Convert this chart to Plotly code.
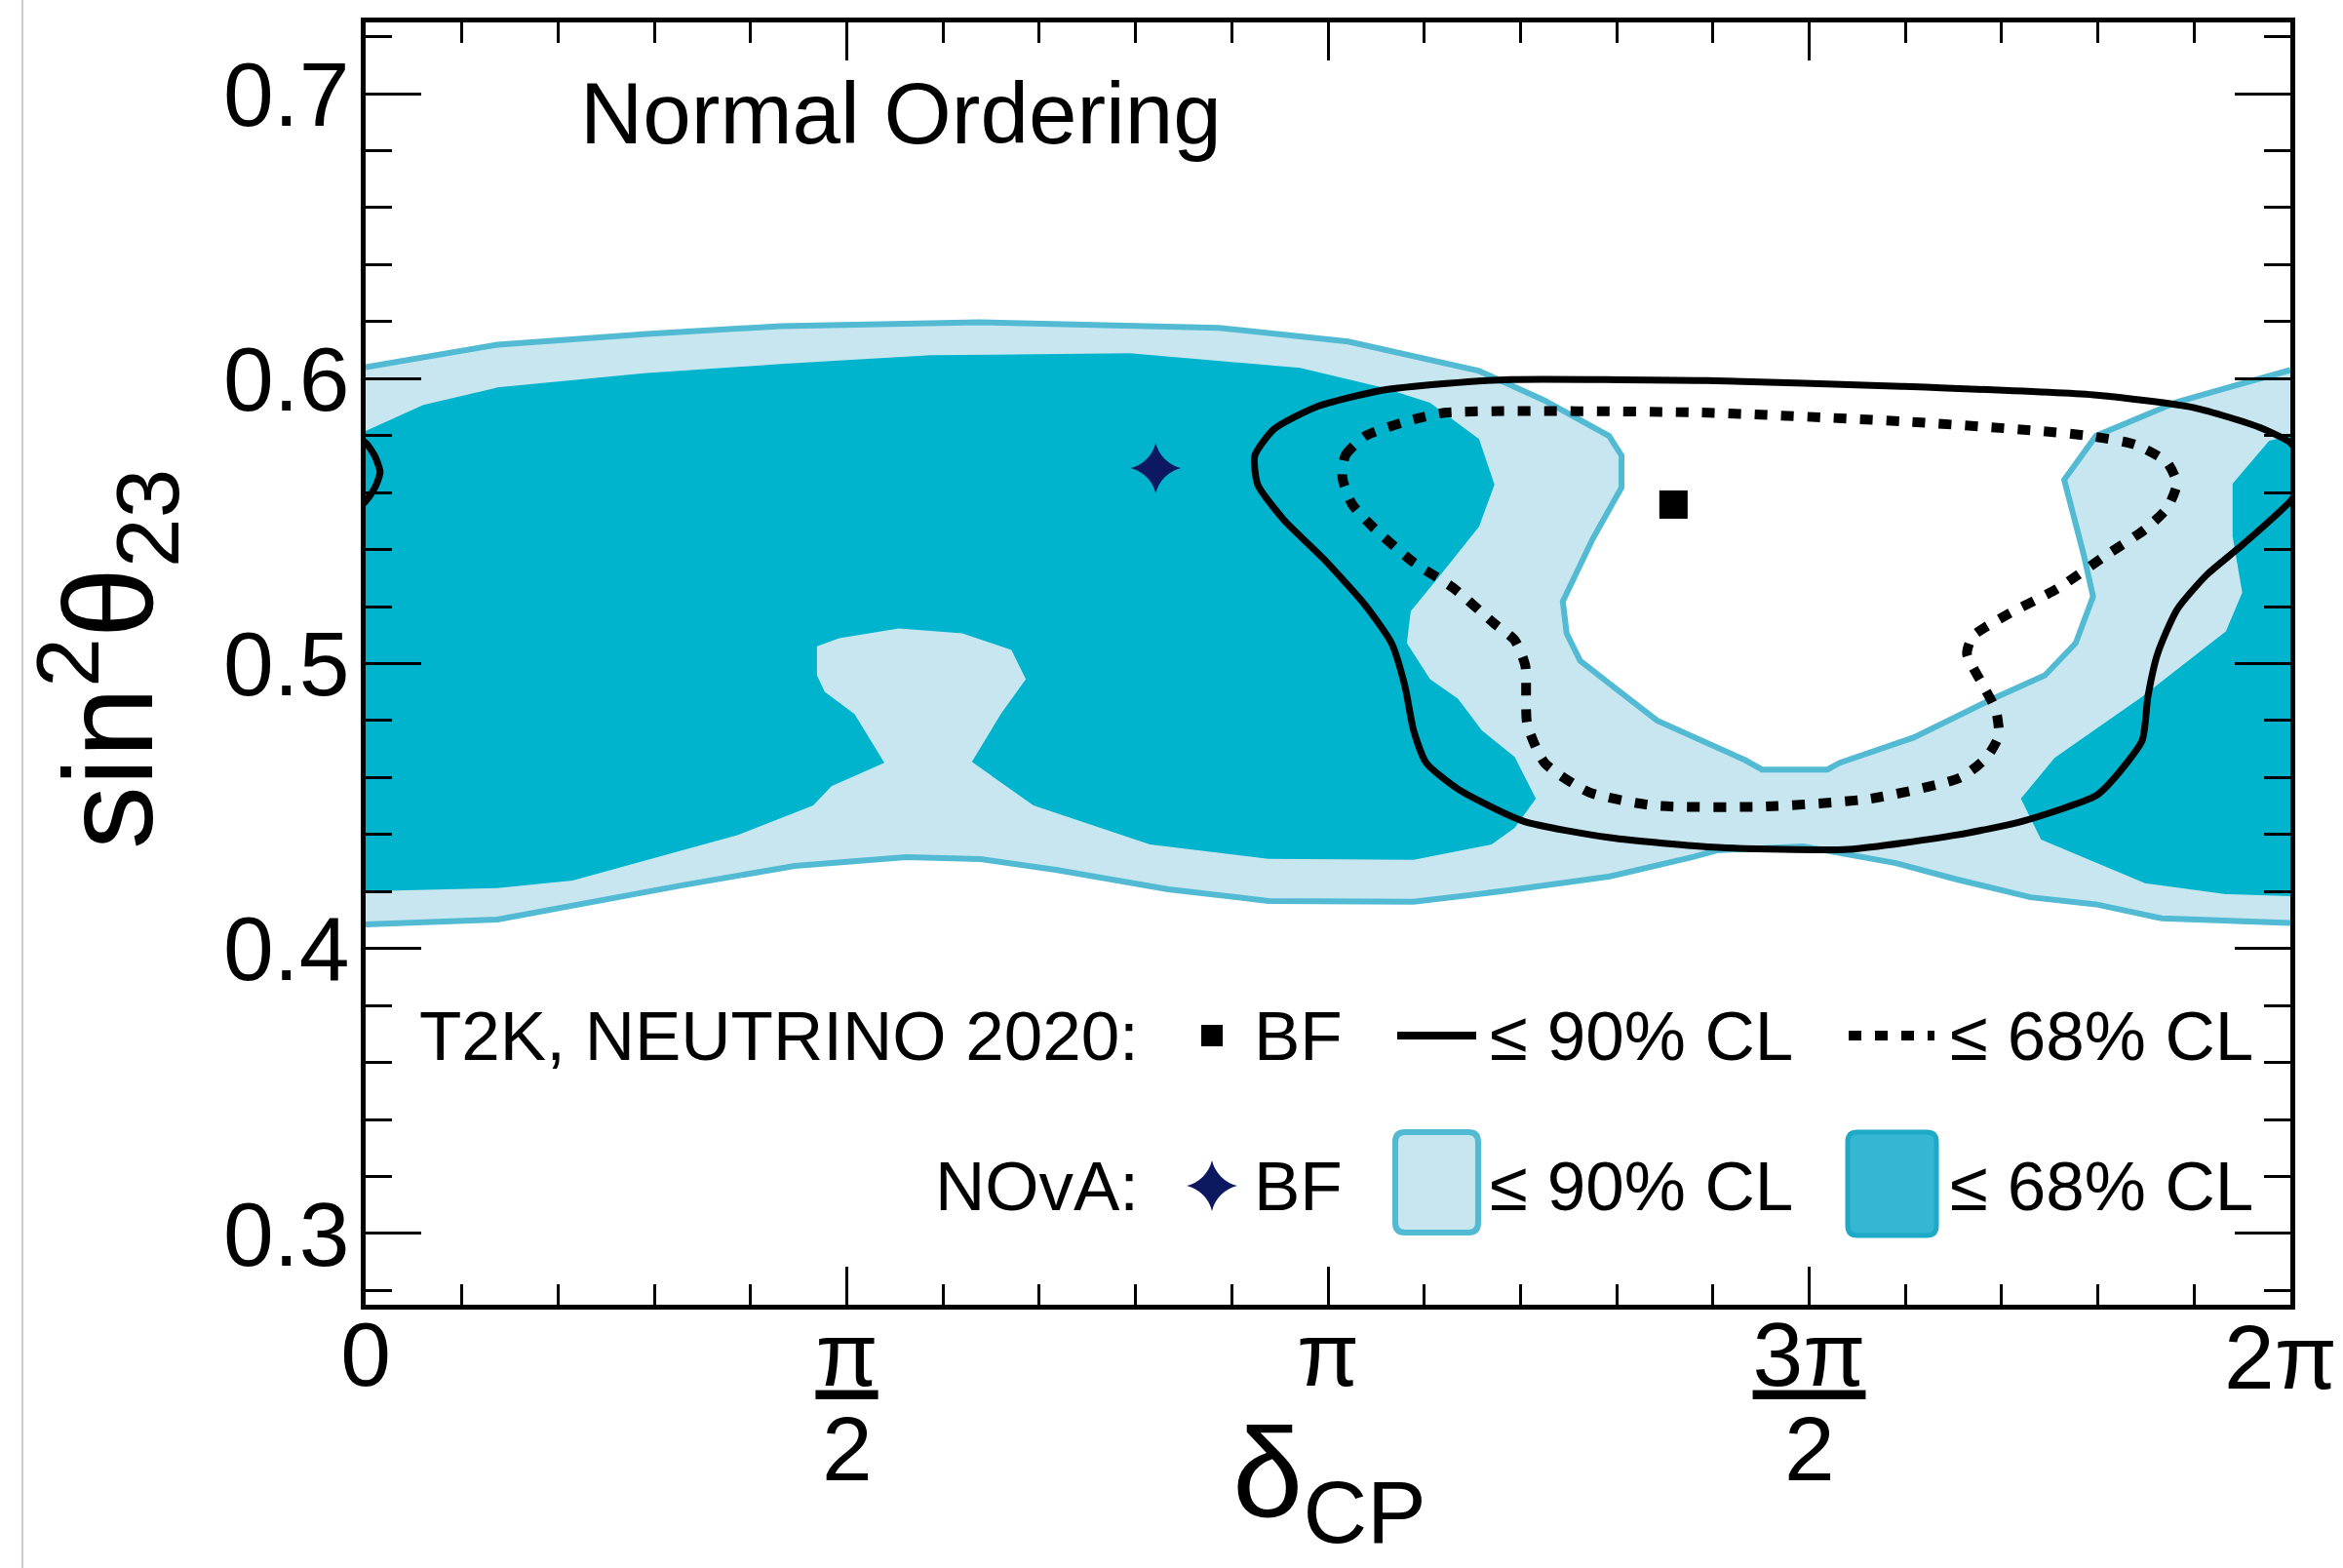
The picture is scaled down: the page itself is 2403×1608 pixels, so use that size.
import numpy as np
import plotly.graph_objects as go

PI = np.pi

# ---------------- data (x in units of pi: delta_CP/pi, y = sin^2(theta_23)) ----------------
# NOvA 90% CL region: upper boundary from delta=0 across the open hole to delta=2pi
nova90_upper_x = [0.000, 0.137, 0.292, 0.431, 0.637, 0.887, 1.021, 1.157, 1.224, 1.292, 1.305, 1.305,
                  1.275, 1.244, 1.248, 1.262, 1.300, 1.342, 1.433, 1.451, 1.519, 1.532, 1.609, 1.691,
                  1.745, 1.777, 1.795, 1.785, 1.765, 1.798, 1.882, 2.000]
nova90_upper_y = [0.6040, 0.6119, 0.6157, 0.6184, 0.6198, 0.6178, 0.6130, 0.6027, 0.5925, 0.5799, 0.5730, 0.5618,
                  0.5437, 0.5218, 0.5106, 0.5010, 0.4910, 0.4800, 0.4662, 0.4628, 0.4628, 0.4652, 0.4741, 0.4877,
                  0.4959, 0.5072, 0.5235, 0.5386, 0.5645, 0.5799, 0.5918, 0.6030]
# NOvA 90% CL region: lower boundary from delta=2pi back to 0
nova90_lower_x = [2.000, 1.866, 1.798, 1.730, 1.654, 1.590, 1.494, 1.405, 1.379, 1.293, 1.190, 1.089,
                  0.938, 0.834, 0.717, 0.639, 0.562, 0.446, 0.329, 0.137, 0.000]
nova90_lower_y = [0.4090, 0.4106, 0.4155, 0.4180, 0.4242, 0.4300, 0.4358, 0.4345, 0.4321, 0.4253, 0.4205, 0.4164,
                  0.4167, 0.4208, 0.4276, 0.4314, 0.4321, 0.4290, 0.4222, 0.4102, 0.4085]

# NOvA 68% CL regions
nova68_left_x = [0.000, 0.060, 0.137, 0.292, 0.431, 0.587, 0.794, 0.887, 0.971, 1.056, 1.106, 1.157,
                 1.173, 1.157, 1.117, 1.086, 1.082, 1.106, 1.135, 1.160, 1.194, 1.216, 1.194, 1.170,
                 1.089, 0.938, 0.815, 0.694, 0.630, 0.660, 0.686, 0.671, 0.620, 0.554, 0.492, 0.469,
                 0.469, 0.477, 0.508, 0.539, 0.484, 0.465, 0.387, 0.329, 0.215, 0.137, 0.000]
nova68_left_y = [0.5816, 0.5908, 0.5969, 0.6020, 0.6051, 0.6082, 0.6089, 0.6061, 0.6038, 0.5969, 0.5915, 0.5788,
                 0.5628, 0.5481, 0.5311, 0.5184, 0.5072, 0.4945, 0.4877, 0.4765, 0.4672, 0.4526, 0.4423, 0.4365,
                 0.4311, 0.4315, 0.4365, 0.4502, 0.4655, 0.4823, 0.4945, 0.5048, 0.5106, 0.5123, 0.5089, 0.5061,
                 0.4959, 0.4901, 0.4823, 0.4652, 0.4570, 0.4502, 0.4399, 0.4345, 0.4239, 0.4212, 0.4201]
nova68_right_x = [2.000, 1.978, 1.940, 1.940, 1.950, 1.933, 1.846, 1.755, 1.720, 1.741, 1.849, 1.933, 2.000]
nova68_right_y = [0.5799, 0.5782, 0.5631, 0.5447, 0.5249, 0.5113, 0.4884, 0.4669, 0.4526, 0.4382, 0.4229, 0.4191, 0.4184]

# T2K 90% CL contour (wraps past 2pi)
t2k90_x = [2.000, 1.968, 1.900, 1.799, 1.596, 1.393, 1.190, 1.123, 1.056, 0.988, 0.944, 0.924, 0.927, 0.954,
           0.995, 1.038, 1.066, 1.080, 1.089, 1.102, 1.135, 1.203, 1.293, 1.405, 1.541, 1.654, 1.722, 1.798,
           1.816, 1.846, 1.852, 1.862, 1.882, 1.913, 1.950, 2.000, 2.010, 2.015, 2.010, 2.000]
t2k90_y = [0.5775, 0.5829, 0.5898, 0.5942, 0.5973, 0.5993, 0.5997, 0.5983, 0.5959, 0.5901, 0.5823, 0.5730, 0.5628, 0.5505,
           0.5369, 0.5208, 0.5072, 0.4920, 0.4765, 0.4652, 0.4560, 0.4447, 0.4389, 0.4355, 0.4348, 0.4399, 0.4447, 0.4536,
           0.4594, 0.4730, 0.4884, 0.5034, 0.5188, 0.5311, 0.5416, 0.5570, 0.5620, 0.5672, 0.5725, 0.5775]

# T2K 68% CL contour
t2k68_x = [1.015, 1.018, 1.039, 1.089, 1.123, 1.386, 1.596, 1.730, 1.791, 1.839, 1.872, 1.882, 1.872, 1.849,
           1.805, 1.758, 1.707, 1.670, 1.664, 1.680, 1.694, 1.697, 1.684, 1.657, 1.564, 1.451, 1.338, 1.271,
           1.225, 1.207, 1.205, 1.194, 1.173, 1.130, 1.089, 1.046, 1.025, 1.015]
t2k68_y = [0.5652, 0.5730, 0.5799, 0.5857, 0.5881, 0.5881, 0.5850, 0.5819, 0.5799, 0.5768, 0.5706, 0.5631, 0.5546, 0.5471,
           0.5372, 0.5263, 0.5174, 0.5096, 0.5034, 0.4928, 0.4836, 0.4747, 0.4669, 0.4600, 0.4526, 0.4498, 0.4502, 0.4549,
           0.4652, 0.4788, 0.4993, 0.5082, 0.5140, 0.5266, 0.5355, 0.5481, 0.5560, 0.5652]

# best-fit points
t2k_bf_x, t2k_bf_y = [1.359], [0.5558]
nova_bf_x, nova_bf_y = [0.821], [0.5686]

# axis ticks (the last label is drawn as an annotation so that it never spills past the page edge)
x_tick_pi = [0, 0.5, 1, 1.5, 2]
x_tick_text = ["0", "<u>π</u>", "π", "<u>3π</u>", ""]
x_last_label = (2, "2π")
x_frac_den = [(0.5, "2"), (1.5, "2")]

# ---------------- style ----------------
LIGHT = "#c8e6ef"
LIGHT_EDGE = "#52bad3"
DARK = "#00b4cd"
DARK_LEG = "#35b6d2"
DARK_LEG_EDGE = "#1ea9c6"
NAVY = "#0c1860"
FONT = "Liberation Sans, Arial, Helvetica, sans-serif"

W, H = 2403, 1608
PX0, PY0, PX1, PY1 = 375, 23, 2349, 1338   # plot frame in pixels
L, T, R, B = PX0, PY0, W - PX1, H - PY1
PW, PH = PX1 - PX0, PY1 - PY0


def px_x(X):
    return (X - PX0) / PW


def px_y(Y):
    return (PY1 - Y) / PH


def rad(v):
    return [a * PI for a in v]


fig = go.Figure()

# NOvA 90% fill
fig.add_trace(go.Scatter(x=rad(nova90_upper_x + nova90_lower_x), y=nova90_upper_y + nova90_lower_y,
                         mode="lines", fill="toself", fillcolor=LIGHT, line=dict(width=0),
                         hoverinfo="skip", showlegend=False))
# NOvA 68% fills
for xs, ys in [(nova68_left_x, nova68_left_y), (nova68_right_x, nova68_right_y)]:
    fig.add_trace(go.Scatter(x=rad(xs), y=ys, mode="lines", fill="toself", fillcolor=DARK,
                             line=dict(width=0), hoverinfo="skip", showlegend=False))
# NOvA 90% edges
for xs, ys in [(nova90_upper_x, nova90_upper_y), (nova90_lower_x, nova90_lower_y)]:
    fig.add_trace(go.Scatter(x=rad(xs), y=ys, mode="lines", line=dict(color=LIGHT_EDGE, width=6),
                             hoverinfo="skip", showlegend=False))

# T2K 90% (solid) + periodic copy
t2k90_xr = rad(t2k90_x)
for shift in (0.0, -2 * PI):
    fig.add_trace(go.Scatter(x=[v + shift for v in t2k90_xr], y=t2k90_y, mode="lines",
                             line=dict(color="black", width=7, shape="spline", smoothing=0.6),
                             hoverinfo="skip", showlegend=False))
# T2K 68% (dotted)
fig.add_trace(go.Scatter(x=rad(t2k68_x), y=t2k68_y, mode="lines",
                         line=dict(color="black", width=10, dash="13px,14px", shape="spline", smoothing=0.6),
                         hoverinfo="skip", showlegend=False))

# best fits
fig.add_trace(go.Scatter(x=rad(t2k_bf_x), y=t2k_bf_y, mode="markers",
                         marker=dict(symbol="square", size=29, color="black", line=dict(width=0)),
                         showlegend=False))
fig.add_trace(go.Scatter(x=rad(nova_bf_x), y=nova_bf_y, mode="markers",
                         marker=dict(symbol="star-diamond", size=37, color=NAVY, line=dict(width=0)),
                         showlegend=False))

# ---------------- legend (overlay axes in plot-fraction units) ----------------
row1, row2 = px_y(1062), px_y(1216)
glyph_x = px_x(1243)
fig.add_trace(go.Scatter(x=[glyph_x], y=[row1], xaxis="x2", yaxis="y2", mode="markers",
                         marker=dict(symbol="square", size=22, color="black", line=dict(width=0)),
                         showlegend=False))
fig.add_trace(go.Scatter(x=[glyph_x], y=[row2], xaxis="x2", yaxis="y2", mode="markers",
                         marker=dict(symbol="star-diamond", size=37, color=NAVY, line=dict(width=0)),
                         showlegend=False))
fig.add_trace(go.Scatter(x=[px_x(1433), px_x(1514)], y=[row1, row1], xaxis="x2", yaxis="y2", mode="lines",
                         line=dict(color="black", width=8), showlegend=False))
fig.add_trace(go.Scatter(x=[px_x(1896), px_x(1984)], y=[row1, row1], xaxis="x2", yaxis="y2", mode="lines",
                         line=dict(color="black", width=10, dash="13px,14px"), showlegend=False))


def rrect(x0, y0, x1, y1, r):
    def p(X, Y):
        return f"{px_x(X):.5f},{px_y(Y):.5f}"
    return (f"M {p(x0 + r, y0)} L {p(x1 - r, y0)} Q {p(x1, y0)} {p(x1, y0 + r)} "
            f"L {p(x1, y1 - r)} Q {p(x1, y1)} {p(x1 - r, y1)} L {p(x0 + r, y1)} "
            f"Q {p(x0, y1)} {p(x0, y1 - r)} L {p(x0, y0 + r)} Q {p(x0, y0)} {p(x0 + r, y0)} Z")


shapes = [
    dict(type="path", xref="paper", yref="paper", path=rrect(1431, 1161, 1516, 1264, 10),
         fillcolor=LIGHT, line=dict(color=LIGHT_EDGE, width=6)),
    dict(type="path", xref="paper", yref="paper", path=rrect(1895, 1161, 1986, 1267, 10),
         fillcolor=DARK_LEG, line=dict(color=DARK_LEG_EDGE, width=5)),
    dict(type="line", xref="paper", yref="paper", x0=px_x(23), x1=px_x(23), y0=px_y(H), y1=px_y(0),
         line=dict(color="#cccccc", width=2)),
]

leg_font = dict(family=FONT, size=71, color="black")
annotations = [
    dict(text="T2K, NEUTRINO 2020:", x=px_x(1170), y=row1, xanchor="right"),
    dict(text="BF", x=px_x(1284), y=row1, xanchor="left"),
    dict(text="≤ 90% CL", x=px_x(1526), y=row1, xanchor="left"),
    dict(text="≤ 68% CL", x=px_x(1998), y=row1, xanchor="left"),
    dict(text="NOvA:", x=px_x(1170), y=row2, xanchor="right"),
    dict(text="BF", x=px_x(1284), y=row2, xanchor="left"),
    dict(text="≤ 90% CL", x=px_x(1526), y=row2, xanchor="left"),
    dict(text="≤ 68% CL", x=px_x(1998), y=row2, xanchor="left"),
]
for a in annotations:
    a.update(xref="paper", yref="paper", yanchor="middle", showarrow=False, font=leg_font)

annotations.append(dict(text="Normal Ordering", x=px_x(593), y=px_y(116), xref="paper", yref="paper",
                        xanchor="left", yanchor="middle", showarrow=False,
                        font=dict(family=FONT, size=89, color="black")))
# fraction denominators for pi/2 and 3pi/2 tick labels
tick_font = dict(family=FONT, size=93, color="black")
for xv, txt in x_frac_den:
    annotations.append(dict(text=txt, x=xv * PI, y=px_y(1486), xref="x", yref="paper",
                            xanchor="center", yanchor="middle", showarrow=False, font=tick_font))
# last x tick label (kept inside the page)
annotations.append(dict(text=x_last_label[1], x=x_last_label[0] * PI, y=px_y(1392), xref="x", yref="paper",
                        xanchor="right", xshift=50, yanchor="middle", showarrow=False, font=tick_font))
# axis titles
annotations.append(dict(text="δ<sub>CP</sub>", x=px_x(1363), y=px_y(1519), xref="paper", yref="paper",
                        xanchor="center", yanchor="middle", showarrow=False,
                        font=dict(family=FONT, size=130, color="black")))
annotations.append(dict(text="sin<sup>2</sup>θ<sub>23</sub>", x=px_x(110), y=px_y(676), xref="paper", yref="paper",
                        xanchor="center", yanchor="middle", textangle=-90, showarrow=False,
                        font=dict(family=FONT, size=130, color="black")))

axis_common = dict(showline=True, linecolor="black", linewidth=5, mirror="ticks", ticks="inside",
                   tickcolor="black", tickwidth=3, showgrid=False, zeroline=False,
                   tickfont=tick_font)

fig.update_layout(
    width=W, height=H, autosize=False,
    margin=dict(l=L, r=R, t=T, b=B, pad=0),
    paper_bgcolor="white", plot_bgcolor="white",
    showlegend=False,
    font=dict(family=FONT, color="black"),
    xaxis=dict(range=[0, 2 * PI], tickmode="array", tickvals=[v * PI for v in x_tick_pi],
               ticktext=x_tick_text, ticklen=39, ticklabelstandoff=-34,
               minor=dict(ticks="inside", ticklen=21, tickwidth=3, tickcolor="black",
                          tick0=0, dtick=PI / 10, showgrid=False),
               **axis_common),
    yaxis=dict(range=[0.275, 0.725], tick0=0.3, dtick=0.1, tickformat=".1f", ticklen=57,
               ticklabelstandoff=-7,
               minor=dict(ticks="inside", ticklen=27, tickwidth=3, tickcolor="black",
                          tick0=0.3, dtick=0.02, showgrid=False),
               **axis_common),
    xaxis2=dict(overlaying="x", range=[0, 1], visible=False, fixedrange=True),
    yaxis2=dict(overlaying="y", range=[0, 1], visible=False, fixedrange=True),
    shapes=shapes,
    annotations=annotations,
)

# fixed-size figure filling the window exactly (no page margin, no resizing, no mode bar)
fig.write_html("out.html",
               config={"responsive": False, "displayModeBar": False},
               post_script="document.body.style.margin='0px';"
                           "document.documentElement.style.overflow='hidden';")
